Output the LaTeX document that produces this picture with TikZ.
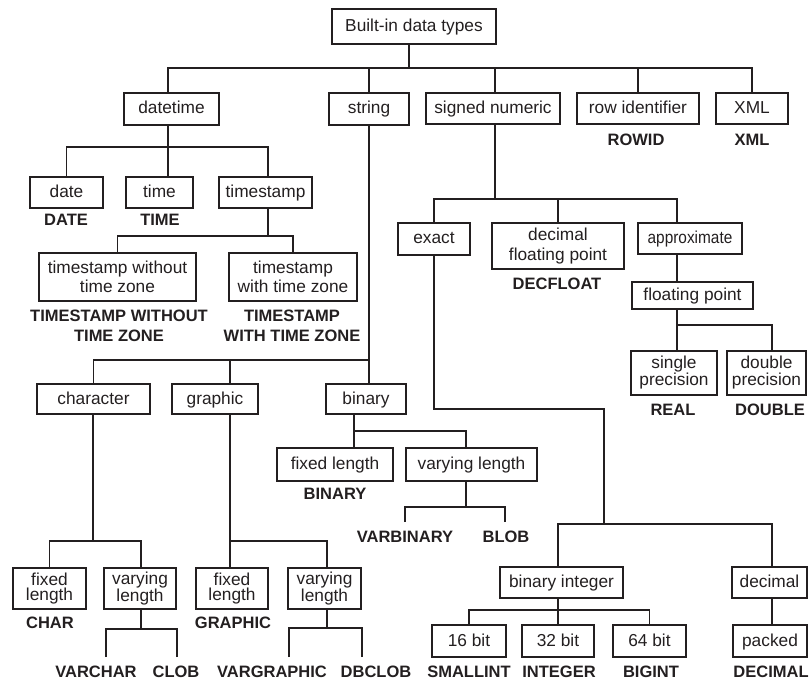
\documentclass[tikz,border=0pt]{standalone}
\usepackage{fontspec}
\setmainfont{Liberation Sans}
\definecolor{ink}{RGB}{35,31,32}
\begin{document}
\begin{tikzpicture}[x=1pt,y=-1pt,
  bx/.style={draw=ink, line width=1.4pt, inner sep=0pt, text=ink,
    font=\fontsize{17.3}{19.5}\selectfont, text height=13pt, text depth=3pt},
  mbx/.style={draw=ink, line width=1.4pt, inner sep=0pt, text=ink, align=center,
    font=\fontsize{17.3}{19.5}\selectfont},
  tight/.style={font=\fontsize{17.3}{15.5}\selectfont},
  mid/.style={font=\fontsize{17.3}{17}\selectfont},
  lbl/.style={inner sep=0pt, text=ink, anchor=base, font=\bfseries\fontsize{16.5}{20}\selectfont},
  mlbl/.style={inner sep=0pt, text=ink, align=center, font=\bfseries\fontsize{16.5}{20}\selectfont},
  ln/.style={draw=ink, line width=1.4pt}]
\useasboundingbox (0,0) rectangle (809,679);

% level 0/1
\node[bx, minimum width=164pt, minimum height=35pt] (root) at (414,26.5) {Built-in data types};
\node[bx, minimum width=95pt, minimum height=32pt] (datetime) at (171.5,109) {datetime};
\node[bx, minimum width=80pt, minimum height=32pt] (string) at (369,109) {string};
\node[bx, minimum width=134pt, minimum height=31pt] (signed) at (493,108.5) {signed numeric};
\node[bx, minimum width=122pt, minimum height=31pt] (rowid) at (638,108.5) {row identifier};
\node[bx, minimum width=72pt, minimum height=31pt] (xml) at (752,108.5) {XML};
\node[lbl] (lrowid) at (636,146) {ROWID};
\node[lbl] (lxml) at (752,146) {XML};

% datetime subtree
\node[bx, minimum width=73pt, minimum height=31pt] (date) at (66.5,192.5) {date};
\node[bx, minimum width=67pt, minimum height=31pt] (time) at (159.5,192.5) {time};
\node[bx, minimum width=93pt, minimum height=31pt] (timestamp) at (265.5,192.5) {timestamp};
\node[lbl] (ldate) at (66,226) {DATE};
\node[lbl] (ltime) at (160,226) {TIME};
\node[mbx, minimum width=157pt, minimum height=48pt] (tswo) at (117.5,277) {timestamp without\\time zone};
\node[mbx, minimum width=128pt, minimum height=48pt] (tsw) at (293,277) {timestamp\\with time zone};
\node[mlbl] (ltswo) at (119,326) {TIMESTAMP WITHOUT\\TIME ZONE};
\node[mlbl] (ltsw) at (292,326) {TIMESTAMP\\WITH TIME ZONE};

% string subtree
\node[bx, minimum width=113pt, minimum height=30pt] (character) at (93.5,399) {character};
\node[bx, minimum width=86pt, minimum height=30pt] (graphic) at (215,399) {graphic};
\node[bx, minimum width=80pt, minimum height=30pt] (binary) at (366,399) {binary};
\node[bx, minimum width=116pt, minimum height=33pt] (bfixed) at (335,464.5) {fixed length};
\node[bx, minimum width=131pt, minimum height=33pt] (bvary) at (471.5,464.5) {varying length};
\node[lbl] (lbinary) at (335,499) {BINARY};
\node[lbl] (lvarbinary) at (405,542) {VARBINARY};
\node[lbl] (lblob) at (506,542) {BLOB};
\node[mbx, tight, minimum width=73pt, minimum height=41pt] (cfixed) at (49.5,588.5) {fixed\\length};
\node[mbx, tight, minimum width=72pt, minimum height=41pt] (cvary) at (140,588.5) {varying\\length};
\node[mbx, tight, minimum width=72pt, minimum height=41pt] (gfixed) at (232,588.5) {fixed\\length};
\node[mbx, tight, minimum width=73pt, minimum height=41pt] (gvary) at (324.5,588.5) {varying\\length};
\node[lbl] (lchar) at (50,628) {CHAR};
\node[lbl] (lgraphic) at (233,628) {GRAPHIC};
\node[lbl] (lvarchar) at (96,677) {VARCHAR};
\node[lbl] (lclob) at (176,677) {CLOB};
\node[lbl] (lvargraphic) at (272,677) {VARGRAPHIC};
\node[lbl] (ldbclob) at (376,677) {DBCLOB};

% numeric subtree
\node[bx, minimum width=72pt, minimum height=32pt] (exact) at (434,239) {exact};
\node[mbx, minimum width=132pt, minimum height=46pt] (decfloat) at (558,246) {decimal\\floating point};
\node[bx, minimum width=104pt, minimum height=31pt] (approx) at (690,238.5) {\scalebox{0.89}[1]{approximate}};
\node[lbl] (ldecfloat) at (557,290) {DECFLOAT};
\node[bx, minimum width=121pt, minimum height=27pt] (floating) at (692.5,295.5) {floating point};
\node[mbx, mid, minimum width=86pt, minimum height=44pt] (single) at (674,373) {single\\precision};
\node[mbx, mid, minimum width=79pt, minimum height=44pt] (double) at (766.5,373) {double\\precision};
\node[lbl] (lreal) at (673,415) {REAL};
\node[lbl] (ldouble) at (770,415) {DOUBLE};
\node[bx, minimum width=123pt, minimum height=31pt] (binint) at (561.5,582.5) {binary integer};
\node[bx, minimum width=75pt, minimum height=31pt] (decimal) at (769.5,582.5) {decimal};
\node[bx, minimum width=74pt, minimum height=32pt] (b16) at (469,641) {16 bit};
\node[bx, minimum width=72pt, minimum height=32pt] (b32) at (558,641) {32 bit};
\node[bx, minimum width=73pt, minimum height=32pt] (b64) at (649.5,641) {64 bit};
\node[bx, minimum width=74pt, minimum height=32pt] (packed) at (770,641) {packed};
\node[lbl] (lsmallint) at (469,677) {SMALLINT};
\node[lbl] (linteger) at (559,677) {INTEGER};
\node[lbl] (lbigint) at (651,677) {BIGINT};
\node[lbl] (ldecimal) at (771,677) {DECIMAL};

% junction coordinates
\coordinate (rj) at (409,68);
\coordinate (dj) at (168,147);
\coordinate (tsj) at (268,236);
\coordinate (sj) at (369,360);
\coordinate (gx) at (230,0);
\coordinate (cj) at (93,541);
\coordinate (cvj) at (141,629);
\coordinate (gj) at (230,541);
\coordinate (gvj) at (327,628);
\coordinate (bj) at (354,431);
\coordinate (bvx) at (466,0);
\coordinate (bvj) at (466,507);
\coordinate (snj) at (495,199);
\coordinate (ax) at (677,0);
\coordinate (fj) at (677,325);
\coordinate (dx) at (772,0);
\coordinate (eb) at (604,409);
\coordinate (ej) at (604,524);
\coordinate (bix) at (558,0);
\coordinate (dcx) at (772,0);
\coordinate (bij) at (558,610);
\coordinate (vce) at (106,657);
\coordinate (cle) at (177,657);
\coordinate (vge) at (289,657);
\coordinate (dbe) at (362,657);
\coordinate (vbe) at (405,522);
\coordinate (ble) at (505,522);

% root
\draw[ln] (root.south -| rj) -- (rj);
\draw[ln] (datetime.north -| dj) |- (rj);
\draw[ln] (string.north) |- (rj);
\draw[ln] (signed.north -| snj) |- (rj);
\draw[ln] (rowid.north) |- (rj);
\draw[ln] (xml.north) |- (rj);

% datetime
\draw[ln] (datetime.south -| dj) -- (dj);
\draw[ln] (date.north) |- (dj);
\draw[ln] (time.north -| dj) -- (dj);
\draw[ln] (timestamp.north -| tsj) |- (dj);
\draw[ln] (timestamp.south -| tsj) -- (tsj);
\draw[ln] (tswo.north) |- (tsj);
\draw[ln] (tsw.north) |- (tsj);

% string
\draw[ln] (string.south -| sj) -- (binary.north -| sj);
\draw[ln] (character.north) |- (sj);
\draw[ln] (graphic.north -| gx) |- (sj);
\draw[ln] (character.south -| cj) -- (cj);
\draw[ln] (cfixed.north) |- (cj);
\draw[ln] (cvary.north -| cvj) |- (cj);
\draw[ln] (cvary.south -| cvj) -- (cvj);
\draw[ln] (vce) |- (cvj);
\draw[ln] (cle) |- (cvj);
\draw[ln] (graphic.south -| gj) -- (gj);
\draw[ln] (gfixed.north -| gj) -- (gj);
\draw[ln] (gvary.north -| gvj) |- (gj);
\draw[ln] (gvary.south -| gvj) -- (gvj);
\draw[ln] (vge) |- (gvj);
\draw[ln] (dbe) |- (gvj);
\draw[ln] (binary.south -| bj) -- (bfixed.north -| bj);
\draw[ln] (bvary.north -| bvx) |- (bj);
\draw[ln] (bvary.south -| bvj) -- (bvj);
\draw[ln] (vbe) |- (bvj);
\draw[ln] (ble) |- (bvj);

% signed numeric
\draw[ln] (signed.south -| snj) -- (snj);
\draw[ln] (exact.north) |- (snj);
\draw[ln] (decfloat.north) |- (snj);
\draw[ln] (approx.north -| ax) |- (snj);
\draw[ln] (approx.south -| ax) -- (floating.north -| ax);
\draw[ln] (floating.south -| fj) -- (fj);
\draw[ln] (single.north -| fj) -- (fj);
\draw[ln] (double.north -| dx) |- (fj);
\draw[ln] (exact.south) |- (eb) -- (ej);
\draw[ln] (binint.north -| bix) |- (ej);
\draw[ln] (decimal.north -| dcx) |- (ej);
\draw[ln] (decimal.south -| dcx) -- (packed.north -| dcx);
\draw[ln] (binint.south -| bij) -- (bij);
\draw[ln] (b16.north) |- (bij);
\draw[ln] (b32.north -| bij) -- (bij);
\draw[ln] (b64.north) |- (bij);
\end{tikzpicture}
\end{document}
